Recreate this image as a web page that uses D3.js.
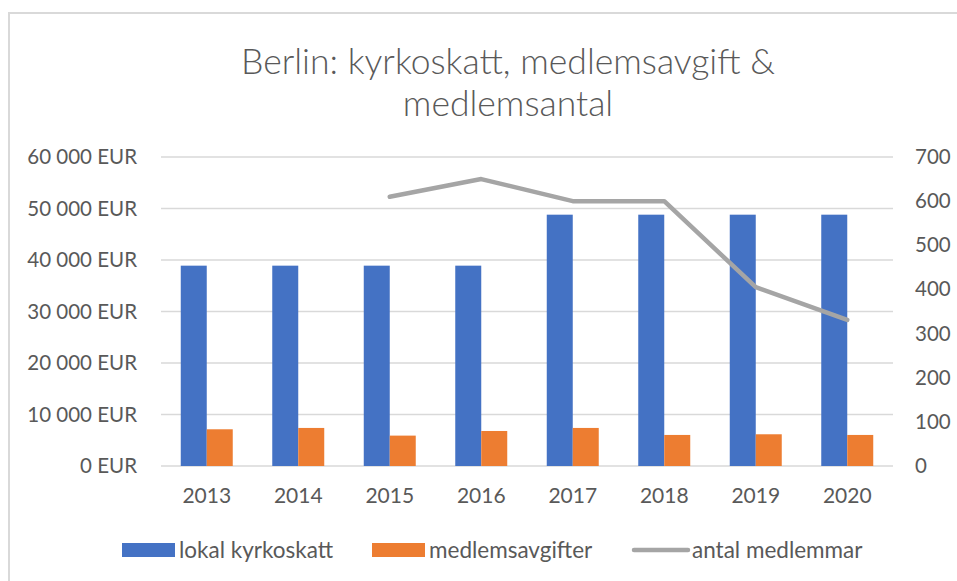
<!DOCTYPE html>
<html>
<head>
<meta charset="utf-8">
<script src="https://cdn.jsdelivr.net/npm/d3@7"></script>
<style>
  body { margin: 0; background: #fff; }
  svg text { font-family: Lato, "Open Sans", sans-serif; fill: #595959; }
</style>
</head>
<body>
<script>
var width = 957;
var height = 581;

// data
var years = ["2013", "2014", "2015", "2016", "2017", "2018", "2019", "2020"];
var kyrkoskatt = [38900, 38900, 38900, 38900, 48800, 48800, 48800, 48800];
var avgifter = [7130, 7390, 5900, 6800, 7390, 6030, 6160, 6030];
var medlemmar = [null, null, 610, 650, 600, 600, 405, 331];
var eurTicks = [0, 10000, 20000, 30000, 40000, 50000, 60000];
var countTicks = [0, 100, 200, 300, 400, 500, 600, 700];

var seriesNames = ["lokal kyrkoskatt", "medlemsavgifter", "antal medlemmar"];
var colors = ["#4472c4", "#ed7d31", "#a5a5a5"];

var margin = {top: 157, right: 64, bottom: 115, left: 161};
var plotW = width - margin.left - margin.right,
    plotH = height - margin.top - margin.bottom;

var svg = d3.select("body")
        .append("svg")
        .attr("width", width)
        .attr("height", height);

// chart frame
svg.append("rect")
        .attr("x", 9).attr("y", 13)
        .attr("width", width + 10).attr("height", height + 10)
        .attr("fill", "none")
        .attr("stroke", "#d9d9d9")
        .attr("stroke-width", 2);

svg.append("text")
        .attr("x", 508).attr("y", 74)
        .attr("text-anchor", "middle")
        .style("font-size", "35.5px")
        .style("font-weight", 300)
        .text("Berlin: kyrkoskatt, medlemsavgift &");
svg.append("text")
        .attr("x", 508).attr("y", 116)
        .attr("text-anchor", "middle")
        .style("font-size", "35.5px")
        .style("font-weight", 300)
        .text("medlemsantal");

var g = svg.append("g")
        .attr("transform", "translate(" + margin.left + "," + margin.top + ")");

var x = d3.scaleBand().domain(years).range([0, plotW]).padding(0);
var xs = d3.scaleBand().domain([0, 1]).range([0, x.bandwidth()]).paddingInner(0).paddingOuter(0.76);
var yLeft = d3.scaleLinear().domain([0, 60000]).range([plotH, 0]);
var yRight = d3.scaleLinear().domain([0, 700]).range([plotH, 0]);

var fmt = function (d) { return d3.format(",")(d).replace(/,/g, " ") + " EUR"; };

// gridlines
g.append("g")
        .selectAll("line")
        .data(eurTicks)
        .enter().append("line")
        .attr("x1", 0).attr("x2", plotW)
        .attr("y1", function (d) { return yLeft(d); })
        .attr("y2", function (d) { return yLeft(d); })
        .attr("stroke", "#d9d9d9")
        .attr("stroke-width", 1.5);

var leftAxis = g.append("g")
        .call(d3.axisLeft(yLeft).tickValues(eurTicks).tickFormat(fmt).tickSize(0).tickPadding(24));
leftAxis.select(".domain").remove();
leftAxis.selectAll("text").style("font-size", "20.5px").attr("fill", "#595959");

var rightAxis = g.append("g")
        .attr("transform", "translate(" + plotW + ",0)")
        .call(d3.axisRight(yRight).tickValues(countTicks).tickSize(0).tickPadding(22));
rightAxis.select(".domain").remove();
rightAxis.selectAll("text").style("font-size", "20.5px").attr("fill", "#595959");

var bottomAxis = g.append("g")
        .attr("transform", "translate(0," + plotH + ")")
        .call(d3.axisBottom(x).tickSize(0).tickPadding(22));
bottomAxis.select(".domain").remove();
bottomAxis.selectAll("text").style("font-size", "21px").attr("fill", "#595959");

var barData = [kyrkoskatt, avgifter];
barData.forEach(function (vals, s) {
    g.append("g")
            .attr("fill", colors[s])
            .selectAll("rect")
            .data(vals)
            .enter().append("rect")
            .attr("x", function (d, i) { return x(years[i]) + xs(s); })
            .attr("y", function (d) { return yLeft(d); })
            .attr("width", xs.bandwidth())
            .attr("height", function (d) { return plotH - yLeft(d); });
});

var line = d3.line()
        .defined(function (d) { return d != null; })
        .x(function (d, i) { return x(years[i]) + x.bandwidth() / 2; })
        .y(function (d) { return yRight(d); });

g.append("path")
        .datum(medlemmar)
        .attr("d", line)
        .attr("fill", "none")
        .attr("stroke", colors[2])
        .attr("stroke-width", 4.5)
        .attr("stroke-linecap", "round")
        .attr("stroke-linejoin", "round");

// legend
var legendY = 550;
var legendX = [122, 372, 632];
var legend = svg.append("g");
seriesNames.forEach(function (name, i) {
    if (i < 2) {
        legend.append("rect")
                .attr("x", legendX[i]).attr("y", legendY - 7)
                .attr("width", 53).attr("height", 14)
                .attr("fill", colors[i]);
    } else {
        legend.append("line")
                .attr("x1", legendX[i] + 2).attr("x2", legendX[i] + 56)
                .attr("y1", legendY).attr("y2", legendY)
                .attr("stroke", colors[i])
                .attr("stroke-width", 4.5)
                .attr("stroke-linecap", "round");
    }
    legend.append("text")
            .attr("x", legendX[i] + (i < 2 ? 57 : 60))
            .attr("y", legendY)
            .attr("dy", "0.35em")
            .style("font-size", "22.5px")
            .text(name);
});
</script>
</body>
</html>
